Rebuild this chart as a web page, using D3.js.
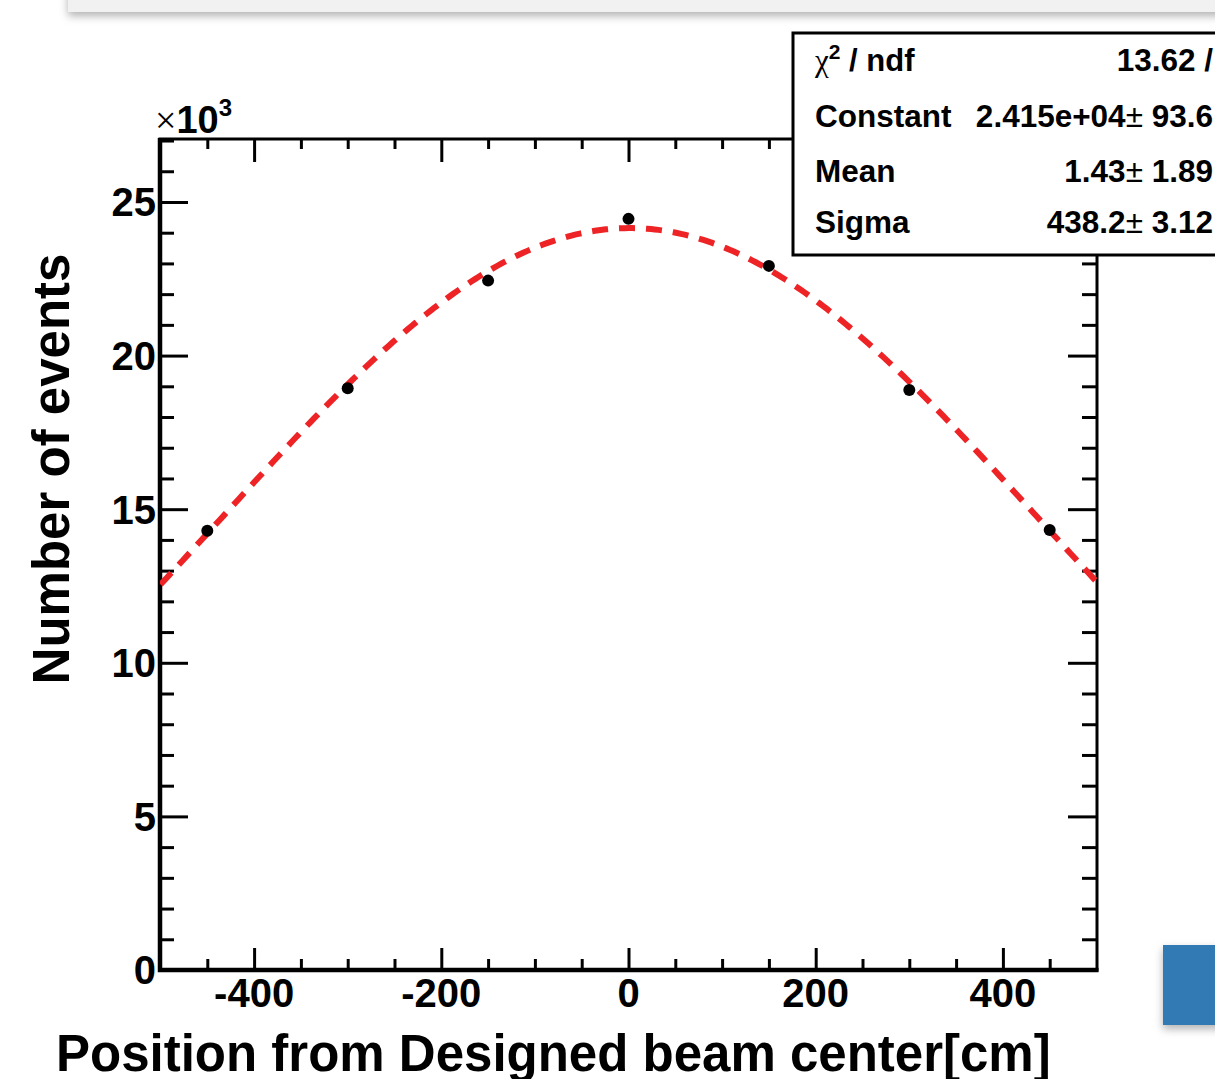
<!DOCTYPE html>
<html>
<head>
<meta charset="utf-8">
<script src="https://cdn.jsdelivr.net/npm/d3@7"></script>
<style>
  body { margin: 0; background: #fff; }
  svg { display: block; }
  text { font-family: "Liberation Sans", Arial, Helvetica, sans-serif; font-weight: bold; fill: #000; }
  .tick line { stroke: #000; stroke-width: 3; }
</style>
</head>
<body>
<svg width="1215" height="1079"></svg>
<script>
// measured points (bin centre in cm, events)
const positions = [-450, -300, -150, 0, 150, 300, 450];
const events = [14300, 18940, 22440, 24450, 22920, 18880, 14320];

// gaussian fit result, as printed in the stats box
const fitConstant = 24150;
const fitMean = 1.43;
const fitSigma = 438.2;

const statLabels = ["Constant", "Mean", "Sigma"];
const statValues = [["2.415e+04", " 93.6"], ["1.43", " 1.89"], ["438.2", " 3.12"]];
const chiValue = "13.62 /";

const xDomain = [-500, 500];
const yMax = 27050;
const xMajor = [-400, -200, 0, 200, 400];
const xMinor = d3.range(-450, 500, 50).filter(v => v % 200 !== 0);
const yMajor = [0, 5000, 10000, 15000, 20000, 25000];
const yMinor = d3.range(1000, 27001, 1000).filter(v => v % 5000 !== 0);

const svg = d3.select("svg");

const frame = { left: 160, right: 1097, top: 139, bottom: 970 };

const x = d3.scaleLinear().domain(xDomain).range([frame.left + 0.5, frame.right - 0.5]);
const y = d3.scaleLinear().domain([0, yMax]).range([frame.bottom, frame.top]);

const defs = svg.append("defs");
defs.append("filter").attr("id", "shadow")
  .attr("x", "-20%").attr("y", "-20%").attr("width", "140%").attr("height", "160%")
  .append("feDropShadow")
  .attr("dx", 0).attr("dy", 4).attr("stdDeviation", 4)
  .attr("flood-color", "#000").attr("flood-opacity", 0.3);
defs.append("clipPath").attr("id", "plotclip")
  .append("rect")
  .attr("x", frame.left).attr("y", frame.top)
  .attr("width", frame.right - frame.left).attr("height", frame.bottom - frame.top);

// slide chrome: grey bar at the top and the blue tab bottom right
svg.append("rect")
  .attr("x", 68).attr("y", -30).attr("width", 1200).attr("height", 42)
  .attr("fill", "#f1f1f1").attr("filter", "url(#shadow)");
svg.append("rect")
  .attr("x", 1163).attr("y", 945).attr("width", 80).attr("height", 80)
  .attr("fill", "#317ab4").attr("filter", "url(#shadow)");

// ticks, all pointing into the frame
function ticks(axis, values, size, transform) {
  svg.append("g")
    .attr("transform", transform)
    .call(axis.tickValues(values).tickSize(size).tickFormat(""))
    .call(g => g.select(".domain").remove());
}
ticks(d3.axisTop(x), xMajor, 22, `translate(0,${frame.bottom})`);
ticks(d3.axisTop(x), xMinor, 11, `translate(0,${frame.bottom})`);
ticks(d3.axisBottom(x), xMajor, 23, `translate(0,${frame.top})`);
ticks(d3.axisBottom(x), xMinor, 10, `translate(0,${frame.top})`);
ticks(d3.axisRight(y), yMajor, 28, `translate(${frame.left},0)`);
ticks(d3.axisRight(y), yMinor, 14, `translate(${frame.left},0)`);
ticks(d3.axisLeft(y), yMajor, 29, `translate(${frame.right},0)`);
ticks(d3.axisLeft(y), yMinor, 15, `translate(${frame.right},0)`);

// frame
svg.append("rect")
  .attr("x", frame.left).attr("y", frame.top)
  .attr("width", frame.right - frame.left).attr("height", frame.bottom - frame.top)
  .attr("fill", "none").attr("stroke", "#000").attr("stroke-width", 3);
svg.append("path")
  .attr("d", `M${frame.left},${frame.top - 1}V${frame.bottom}H${frame.right + 1.5}`)
  .attr("fill", "none").attr("stroke", "#000").attr("stroke-width", 4.5);

// tick labels
svg.append("g").selectAll("text")
  .data(xMajor)
  .enter()
  .append("text")
  .attr("x", d => x(d))
  .attr("y", 1007)
  .attr("text-anchor", "middle")
  .style("font-size", "40px")
  .text(d => d);

svg.append("g").selectAll("text")
  .data(yMajor)
  .enter()
  .append("text")
  .attr("x", 156)
  .attr("y", d => y(d))
  .attr("dy", "0.36em")
  .attr("text-anchor", "end")
  .style("font-size", "40px")
  .text(d => d / 1000);

// axis multiplier
const mult = svg.append("text").attr("x", 155).attr("y", 133).style("font-size", "38px");
mult.append("tspan").style("font-weight", "normal").style("font-family", "'Liberation Serif', serif").text("×");
mult.append("tspan").text("10");
mult.append("tspan").attr("dy", -17).style("font-size", "24px").text("3");

// axis titles
svg.append("text")
  .attr("x", 56).attr("y", 1071)
  .style("font-size", "51px")
  .text("Position from Designed beam center[cm]");
svg.append("text")
  .attr("transform", "translate(69,469) rotate(-90)")
  .attr("text-anchor", "middle")
  .style("font-size", "51px")
  .text("Number of events");

// gaussian fit curve
const fitX = d3.range(xDomain[0], xDomain[1] + 0.1, 4);
const gauss = v => fitConstant * Math.exp(-0.5 * Math.pow((v - fitMean) / fitSigma, 2));
const line = d3.line().x(d => x(d)).y(d => y(gauss(d)));

svg.append("path")
  .datum(fitX)
  .attr("d", line)
  .attr("clip-path", "url(#plotclip)")
  .attr("fill", "none")
  .attr("stroke", "#ee2326")
  .attr("stroke-width", 6)
  .attr("stroke-dasharray", "16,11");

// data points
svg.append("g").selectAll("circle")
  .data(positions)
  .enter()
  .append("circle")
  .attr("cx", d => x(d))
  .attr("cy", (d, i) => y(events[i]))
  .attr("r", 6)
  .attr("fill", "#000");

// stats box
const box = { left: 793, top: 33, bottom: 255, textLeft: 815, textRight: 1213 };
const baselines = [71, 127, 182, 233];

svg.append("rect")
  .attr("x", box.left).attr("y", box.top)
  .attr("width", 500).attr("height", box.bottom - box.top)
  .attr("fill", "#fff").attr("stroke", "#000").attr("stroke-width", 3);

const chi = svg.append("text").attr("x", box.textLeft).attr("y", baselines[0]).style("font-size", "31px");
chi.append("tspan").style("font-weight", "normal").style("font-family", "'Liberation Serif', serif").text("χ");
chi.append("tspan").attr("dy", -12).style("font-size", "21px").text("2");
chi.append("tspan").attr("dy", 12).text(" / ndf");

svg.append("text")
  .attr("x", box.textRight).attr("y", baselines[0])
  .attr("text-anchor", "end")
  .style("font-size", "31.5px")
  .text(chiValue);

statLabels.forEach(function (label, i) {
  svg.append("text")
    .attr("x", box.textLeft).attr("y", baselines[i + 1])
    .style("font-size", "31.5px")
    .text(label);

  const value = svg.append("text")
    .attr("x", box.textRight).attr("y", baselines[i + 1])
    .attr("text-anchor", "end")
    .style("font-size", "31.5px");
  value.append("tspan").text(statValues[i][0]);
  value.append("tspan").style("font-weight", "normal").text("±");
  value.append("tspan").text(statValues[i][1]);
});
</script>
</body>
</html>
